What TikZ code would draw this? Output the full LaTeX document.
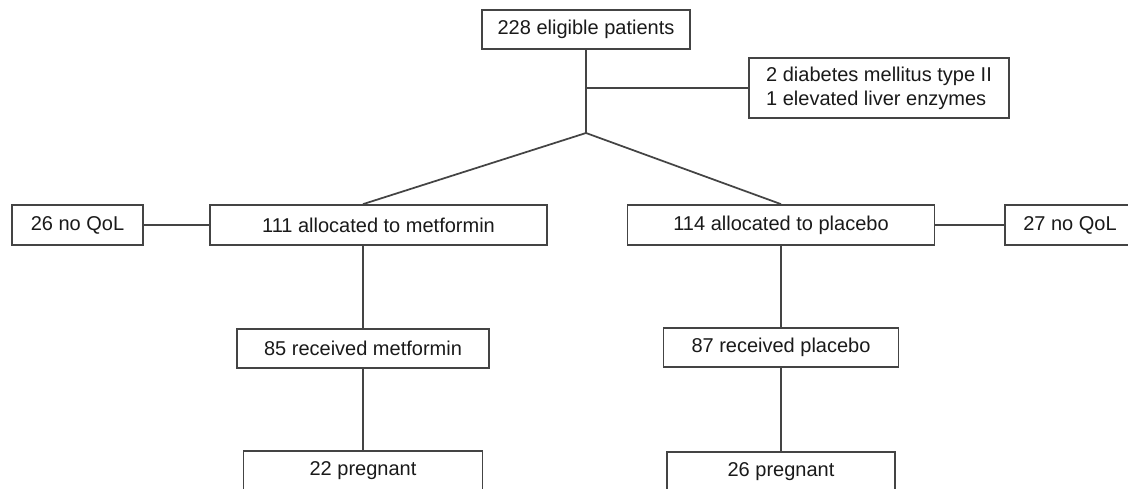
\documentclass[tikz,border=0pt]{standalone}
\usepackage{fontspec}
\setmainfont{Liberation Sans}
\definecolor{ln}{HTML}{444444}
\definecolor{tx}{HTML}{1A1A1A}
\begin{document}
\begin{tikzpicture}[x=0.75pt,y=-0.75pt,
  box/.style={draw=ln,line width=1.3pt,rectangle,inner sep=0pt,
    minimum height=30pt,text=tx,font=\fontsize{15}{18}\selectfont},
  conn/.style={draw=ln,line width=1.3pt}]
\useasboundingbox (0,0) rectangle (1128,489);
\clip (0,0) rectangle (1128,489);
\fill[white] (0,0) rectangle (1128,489);
\node[box,minimum width=156pt,minimum height=29.25pt] (top) at (586,29.5) {228 eligible patients};
\node[box,minimum width=195pt,minimum height=45pt,align=left] (excl) at (879,88) {2 diabetes mellitus type II\\1 elevated liver enzymes};
\node[box,minimum width=98.25pt] (noL) at (77.5,225) {26 no QoL};
\node[box,minimum width=252.75pt] (met) at (378.5,225) {111 allocated to metformin};
\node[box,minimum width=230.25pt] (pla) at (781,225) {114 allocated to placebo};
\node[box,minimum width=97.5pt] (noR) at (1070,225) {27 no QoL};
\node[box,minimum width=189pt,minimum height=29.25pt] (recM) at (363,348.5) {85 received metformin};
\node[box,minimum width=176.25pt,minimum height=29.25pt] (recP) at (781,347.5) {87 received placebo};
\node[box,minimum width=179.25pt] (pregL) at (363,471) {22 pregnant};
\node[box,minimum width=171pt] (pregR) at (781,472) {26 pregnant};
\coordinate (fork) at (586,133);
\draw[conn] (top.south) -- (fork);
\draw[conn] (top.south |- excl.west) -- (excl.west);
\draw[conn] (fork) -- (recM.north |- met.north);
\draw[conn] (fork) -- (pla.north);
\draw[conn] (noL.east) -- (met.west);
\draw[conn] (pla.east) -- (noR.west);
\draw[conn] (recM.north |- met.south) -- (recM.north);
\draw[conn] (pla.south) -- (recP.north);
\draw[conn] (recM.south) -- (recM.south |- pregL.north);
\draw[conn] (recP.south) -- (recP.south |- pregR.north);
\end{tikzpicture}
\end{document}
